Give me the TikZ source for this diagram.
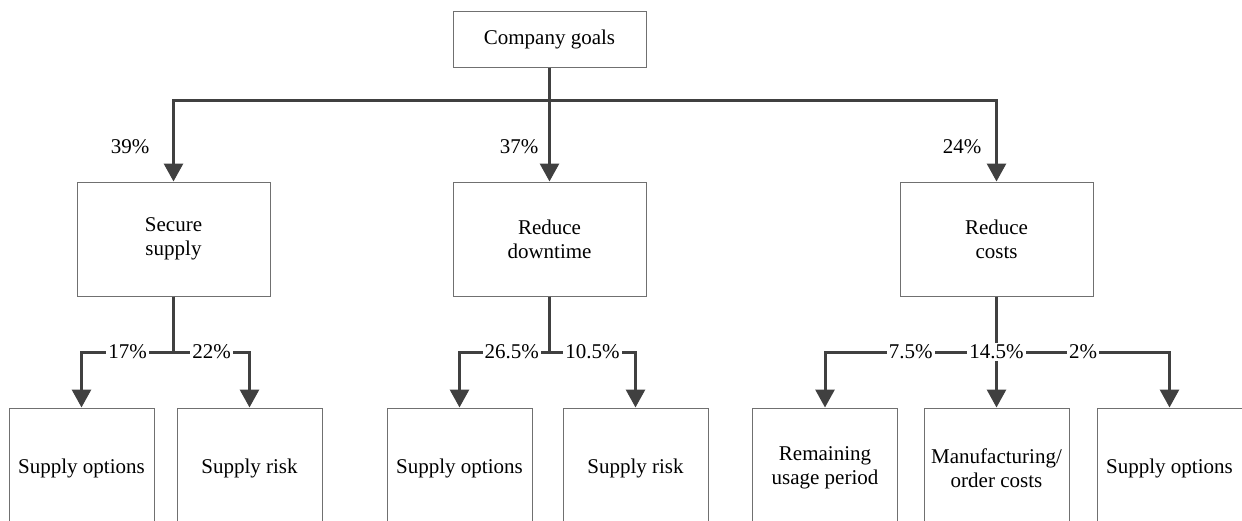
\documentclass[tikz,border=0pt]{standalone}
\usepackage{fontspec}
\setmainfont{Liberation Serif}
\usetikzlibrary{positioning}
\usetikzlibrary{arrows.meta}
\definecolor{linegray}{HTML}{404040}
\definecolor{boxgray}{HTML}{707070}
\tikzset{ % boxes and arrows of the goal tree
  rootbox/.style={draw=boxgray,line width=0.5pt,rectangle,minimum width=96.5pt,minimum height=28pt,inner sep=0pt,align=center},
  goalbox/.style={draw=boxgray,line width=0.5pt,rectangle,minimum width=96.5pt,minimum height=57pt,inner sep=0pt,align=center},
  leafbox/.style={draw=boxgray,line width=0.5pt,rectangle,minimum width=72.5pt,minimum height=60pt,inner sep=0pt,align=center},
  link/.style={draw=linegray,line width=1.5pt,-{Triangle[width=9.5pt,length=9pt]}},
  share/.style={fill=white,inner sep=1pt},
  pct/.style={inner sep=0pt}
}

\begin{document}
\begin{tikzpicture}[x=0.5pt,y=-0.5pt,every node/.style={font=\fontsize{10.5}{12}\selectfont}]
\clip (0,0) rectangle (1242,520);

% top level
\node [rootbox] (goals) at (549.5,39) {Company goals};
\coordinate (hub) at (549.5,100);

\node [goalbox] (secure) at (173.5,239) {Secure\\supply};
\node [goalbox] (downtime) at (549.5,239) {Reduce\\downtime};
\node [goalbox] (costs) at (996.5,239) {Reduce\\costs};

\draw [link] (goals.south) -- (downtime.north);
\draw [link] (hub) -| (secure.north);
\draw [link] (hub) -| (costs.north);

\node [pct] at (130,147) {39\%};
\node [pct] at (519,147) {37\%};
\node [pct] at (962,147) {24\%};

% leaves
\node [leafbox] (opt1) at (81.5,468) {Supply options};
\node [leafbox] (risk1) at (249.5,468) {Supply risk};
\node [leafbox] (opt2) at (459.5,468) {Supply options};
\node [leafbox] (risk2) at (635.5,468) {Supply risk};
\node [leafbox] (usage) at (825,468) {Remaining\\usage period};
\node [leafbox] (order) at (996.5,468) {Manufacturing/\\order costs};
\node [leafbox] (opt3) at (1169.5,468) {Supply options};

\coordinate (s1) at (173.5,352);
\coordinate (s2) at (549.5,352);
\coordinate (s3) at (996.5,352);

\draw [link] (secure.south) -- (s1) -| node[share,pos=0.25]{17\%} (opt1.north);
\draw [link] (secure.south) -- (s1) -| node[share,pos=0.25]{22\%} (risk1.north);

\draw [link] (downtime.south) -- (s2) -| node[share,pos=0.21]{26.5\%} (opt2.north);
\draw [link] (downtime.south) -- (s2) -| node[share,pos=0.25]{10.5\%} (risk2.north);

\draw [link] (s3) -| node[share,pos=0.25]{7.5\%} (usage.north);
\draw [link] (s3) -| node[share,pos=0.25]{2\%} (opt3.north);
\draw [link] (costs.south) -- node[share,pos=0.5]{14.5\%} (order.north);
\end{tikzpicture}
\end{document}
